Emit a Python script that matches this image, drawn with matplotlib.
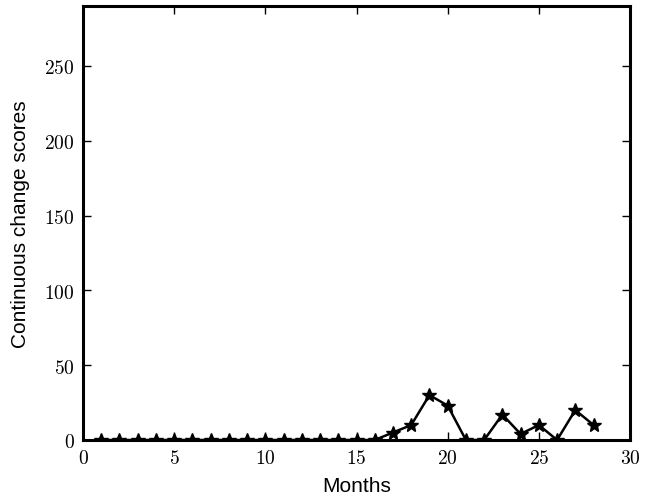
import matplotlib
matplotlib.use("Agg")
import matplotlib.pyplot as plt
from matplotlib.ticker import FuncFormatter

# data
months = list(range(1, 29))
scores = [0, 0, 0, 0, 0, 0, 0, 0, 0, 0, 0, 0, 0, 0, 0, 0,
          5, 10, 30, 23, 0, 0, 17, 4, 10, 0, 20, 10]

plt.rcParams['mathtext.fontset'] = 'cm'

fig = plt.figure(figsize=(6.55, 5.02), dpi=100)
ax = fig.add_axes([83 / 655, 1 - 441 / 502, (630 - 83) / 655, (441 - 7) / 502])

ax.plot(months, scores, color='black', linewidth=1.8, marker='*', markersize=10)

ax.set_xlim(0, 30)
ax.set_ylim(0, 290)
ax.set_xticks([0, 5, 10, 15, 20, 25, 30])
ax.set_yticks([0, 50, 100, 150, 200, 250])
fmt = FuncFormatter(lambda v, p: r'$%d$' % v)
ax.xaxis.set_major_formatter(fmt)
ax.yaxis.set_major_formatter(fmt)
ax.tick_params(direction='in', top=True, right=True, length=6, width=1, labelsize=14, pad=6)

for s in ax.spines.values():
    s.set_linewidth(2.2)

ax.set_xlabel('Months', fontsize=15, family='Liberation Sans', labelpad=6)
ax.set_ylabel('Continuous change scores', fontsize=15, family='Liberation Sans', labelpad=10)

fig.savefig('out.png', dpi=100)
